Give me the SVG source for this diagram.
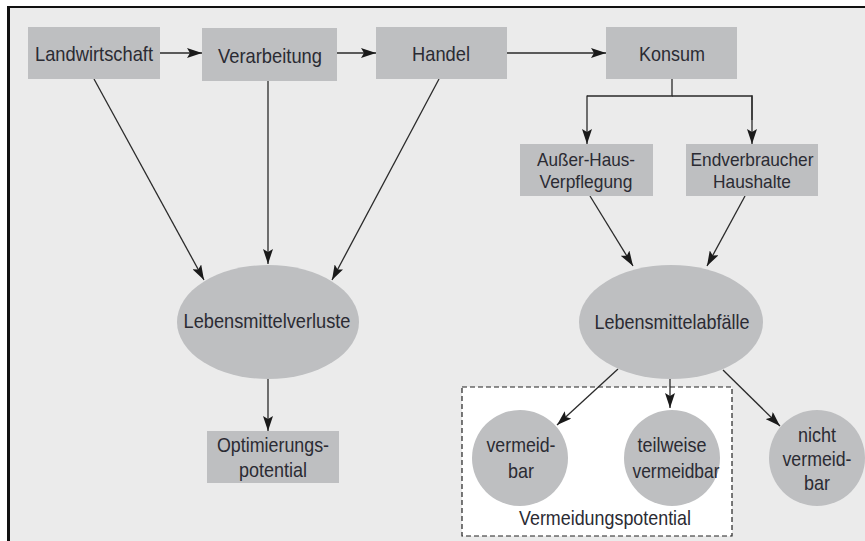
<svg xmlns="http://www.w3.org/2000/svg" width="865" height="541" viewBox="0 0 865 541">
<defs>
<marker id="ah" viewBox="0 0 15 10" refX="15" refY="5" markerWidth="15" markerHeight="10" markerUnits="userSpaceOnUse" orient="auto">
<path d="M0,0 L15,5 L0,10 L3,5 Z" fill="#1a1a1a"/>
</marker>
<style>
.box{fill:#bebfc1}
.ell{fill:#bebfc1}
.t{font-family:"Liberation Sans",Arial,sans-serif;font-size:21px;fill:#2b2b33;text-anchor:middle}
.s{font-size:19px}
.e{stroke:#2a2a2a;stroke-width:1.3;fill:none}
.a{marker-end:url(#ah)}
</style>
</defs>
<rect x="0" y="0" width="865" height="541" fill="#ffffff"/>
<rect x="8" y="7" width="857" height="534" fill="#ebebeb"/>
<line x1="7" y1="7" x2="865" y2="7" stroke="#111" stroke-width="2"/>
<line x1="8.5" y1="6" x2="8.5" y2="541" stroke="#111" stroke-width="3"/>
<rect x="462" y="387" width="270" height="149" fill="#ffffff" stroke="#222" stroke-width="1.2" stroke-dasharray="5,3"/>
<g id="connectors">
<line class="e a" x1="160" y1="53" x2="202" y2="53"/>
<line class="e a" x1="337" y1="53" x2="376" y2="53"/>
<line class="e a" x1="507" y1="53" x2="606" y2="53"/>
<polyline class="e" points="672,79 672,96 587,96"/>
<line class="e a" x1="587" y1="95.4" x2="587" y2="144"/>
<polyline class="e" points="672,96 752,96 752,120"/>
<line class="e a" x1="752" y1="95.4" x2="752" y2="144"/>
<line class="e a" x1="94" y1="79" x2="204" y2="280"/>
<line class="e a" x1="268" y1="81" x2="268" y2="264"/>
<line class="e a" x1="439" y1="79" x2="332" y2="280"/>
<line class="e a" x1="268" y1="379" x2="268" y2="431"/>
<line class="e a" x1="590" y1="196" x2="633" y2="266"/>
<line class="e a" x1="745" y1="196" x2="707" y2="266"/>
<line class="e a" x1="618" y1="369" x2="557" y2="425"/>
<line class="e a" x1="670" y1="379" x2="670" y2="408"/>
<line class="e a" x1="723" y1="370" x2="780" y2="426"/>
</g>
<g id="landwirtschaft"><rect class="box" x="28" y="27" width="132" height="52"/><text class="t" x="94" y="61" textLength="118" lengthAdjust="spacingAndGlyphs">Landwirtschaft</text></g>
<g id="verarbeitung"><rect class="box" x="202" y="28" width="135" height="53"/><text class="t" x="270" y="63" textLength="104" lengthAdjust="spacingAndGlyphs">Verarbeitung</text></g>
<g id="handel"><rect class="box" x="376" y="27" width="131" height="52"/><text class="t" x="441" y="61" textLength="58" lengthAdjust="spacingAndGlyphs">Handel</text></g>
<g id="konsum"><rect class="box" x="606" y="27" width="131" height="52"/><text class="t" x="672" y="61" textLength="66" lengthAdjust="spacingAndGlyphs">Konsum</text></g>
<g id="ausser-haus"><rect class="box" x="520" y="144" width="133" height="52"/><text class="t s" x="586" y="166" textLength="98" lengthAdjust="spacingAndGlyphs">Außer-Haus-</text><text class="t s" x="586" y="188" textLength="93" lengthAdjust="spacingAndGlyphs">Verpflegung</text></g>
<g id="endverbraucher"><rect class="box" x="686" y="144" width="132" height="52"/><text class="t s" x="752" y="166" textLength="123" lengthAdjust="spacingAndGlyphs">Endverbraucher</text><text class="t s" x="752" y="188" textLength="78" lengthAdjust="spacingAndGlyphs">Haushalte</text></g>
<g id="lebensmittelverluste"><ellipse class="ell" cx="268" cy="322" rx="91" ry="57"/><text class="t" x="267" y="328" textLength="167" lengthAdjust="spacingAndGlyphs">Lebensmittelverluste</text></g>
<g id="optimierungspotential"><rect class="box" x="207" y="431" width="132" height="52"/><text class="t" x="273" y="452" textLength="112" lengthAdjust="spacingAndGlyphs">Optimierungs-</text><text class="t" x="273" y="477" textLength="68" lengthAdjust="spacingAndGlyphs">potential</text></g>
<g id="lebensmittelabfaelle"><ellipse class="ell" cx="671" cy="322" rx="92" ry="57"/><text class="t" x="672" y="329" textLength="155" lengthAdjust="spacingAndGlyphs">Lebensmittelabfälle</text></g>
<g id="vermeidbar"><circle class="ell" cx="520" cy="458" r="48"/><text class="t" x="521" y="452" textLength="69" lengthAdjust="spacingAndGlyphs">vermeid-</text><text class="t" x="521" y="478" textLength="26" lengthAdjust="spacingAndGlyphs">bar</text></g>
<g id="teilweise"><circle class="ell" cx="672" cy="458" r="48"/><text class="t" x="672" y="452" textLength="69" lengthAdjust="spacingAndGlyphs">teilweise</text><text class="t" x="676" y="478" textLength="87" lengthAdjust="spacingAndGlyphs">vermeidbar</text></g>
<g id="nicht"><circle class="ell" cx="817" cy="458" r="48"/><text class="t" x="817" y="442" textLength="38" lengthAdjust="spacingAndGlyphs">nicht</text><text class="t" x="817" y="466" textLength="69" lengthAdjust="spacingAndGlyphs">vermeid-</text><text class="t" x="817" y="490" textLength="26" lengthAdjust="spacingAndGlyphs">bar</text></g>
<g id="vermeidungspotential"><text class="t" x="605" y="525" textLength="172" lengthAdjust="spacingAndGlyphs">Vermeidungspotential</text></g>
</svg>
